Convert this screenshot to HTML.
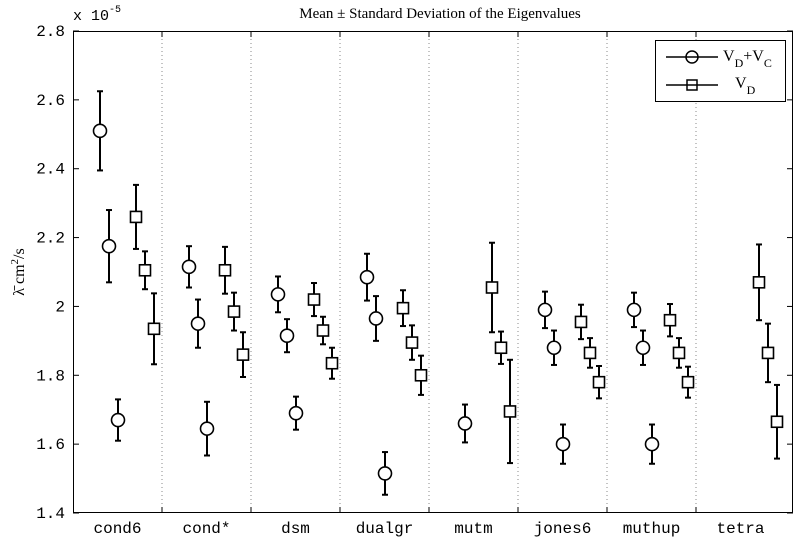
<!DOCTYPE html>
<html><head><meta charset="utf-8"><style>
html,body{margin:0;padding:0;background:#fff;}
svg{display:block;}
.mono{font-family:"Liberation Mono",monospace;}
.serif{font-family:"Liberation Serif",serif;}
</style></head><body>
<svg id="chart" width="800" height="541" viewBox="0 0 800 541">
<text x="440" y="18" text-anchor="middle" class="serif" font-size="15">Mean ± Standard Deviation of the Eigenvalues</text>
<text x="73" y="20" class="mono" font-size="15">x 10<tspan dy="-8" font-size="10">-5</tspan></text>
<text transform="translate(24,272) rotate(-90)" text-anchor="middle" class="serif" font-size="16">λ̄ cm<tspan dy="-6" font-size="11">2</tspan><tspan dy="6">/s</tspan></text>
<g id="grid"></g><g id="axes"></g><g id="marks"></g>
<g>
<rect x="655.5" y="40.5" width="130" height="61" fill="#fff" stroke="#000"/>
<g>
<line x1="666" y1="57" x2="718" y2="57" stroke="#000" stroke-width="1.5"/>
<circle cx="692" cy="57" r="6" fill="none" stroke="#000" stroke-width="1.5"/>
<text x="723" y="61" class="serif" font-size="16">V<tspan dy="6" font-size="12">D</tspan><tspan dy="-6">+V</tspan><tspan dy="6" font-size="12">C</tspan></text></g>
<g>
<line x1="666" y1="85" x2="718" y2="85" stroke="#000" stroke-width="1.5"/>
<rect x="687" y="80" width="10" height="10" fill="none" stroke="#000" stroke-width="1.5"/>
<text x="735" y="88" class="serif" font-size="16">V<tspan dy="6" font-size="12">D</tspan></text></g>
</g>
</svg>
<script>
const categories=["cond6","cond*","dsm","dualgr","mutm","jones6","muthup","tetra"];
const circMean=[[2.51,2.175,1.67],[2.115,1.95,1.645],[2.035,1.915,1.69],[2.085,1.965,1.515],[null,1.66,null],[1.99,1.88,1.60],[1.99,1.88,1.60],[null,null,null]];
const circStd=[[0.115,0.105,0.06],[0.06,0.07,0.078],[0.052,0.048,0.048],[0.068,0.065,0.062],[null,0.055,null],[0.053,0.05,0.057],[0.05,0.05,0.057],[null,null,null]];
const sqMean=[[2.26,2.105,1.935],[2.105,1.985,1.86],[2.02,1.93,1.835],[1.995,1.895,1.80],[2.055,1.88,1.695],[1.955,1.865,1.78],[1.96,1.865,1.78],[2.07,1.865,1.665]];
const sqStd=[[0.093,0.055,0.103],[0.068,0.055,0.065],[0.048,0.04,0.045],[0.052,0.05,0.057],[0.13,0.047,0.15],[0.05,0.043,0.047],[0.047,0.043,0.045],[0.11,0.085,0.107]];
const yTicks=[1.4,1.6,1.8,2,2.2,2.4,2.6,2.8];
const yTickLabels=["1.4","1.6","1.8","2","2.2","2.4","2.6","2.8"];
const L=73,R=793,T=31,B=513,ns="http://www.w3.org/2000/svg";
const catW=89;
const yS=v=>B-(v-1.4)/(2.8-1.4)*(B-T);
const xS=(c,off)=>L+c*catW+off;
function mk(t,a,p){const e=document.createElementNS(ns,t);for(const k in a)e.setAttribute(k,a[k]);p.appendChild(e);return e;}
const axes=document.getElementById('axes'),grid=document.getElementById('grid'),marks=document.getElementById('marks');
const frame=mk('rect',{x:L+.5,y:T+.5,width:R-L-1,height:B-T-1,fill:'none',stroke:'#000'},axes);


yTicks.forEach((v,i)=>{const y=yS(v);
mk('line',{x1:L,y1:y,x2:L+6,y2:y,stroke:'#000'},axes);
mk('line',{x1:R-6,y1:y,x2:R,y2:y,stroke:'#000'},axes);
const t=mk('text',{x:L-8,y:y+5,'text-anchor':'end','font-size':'16',class:'mono'},axes);
t.textContent=yTickLabels[i];

});
categories.forEach((c,i)=>{
if(i>0){const x=L+i*catW;
const g=mk('line',{x1:x,y1:T,x2:x,y2:B,stroke:'#888','stroke-dasharray':'1,3'},grid);


mk('line',{x1:x,y1:B,x2:x,y2:B-6,stroke:'#000'},axes);
mk('line',{x1:x,y1:T,x2:x,y2:T+6,stroke:'#000'},axes);}
const t=mk('text',{x:L+(i+.5)*catW,y:B+20,'text-anchor':'middle','font-size':'16',class:'mono'},axes);
t.textContent=c;

});
function err(x,m,s){const y1=yS(m+s),y2=yS(m-s);
mk('line',{x1:x,y1:y1,x2:x,y2:y2,stroke:'#000','stroke-width':2},marks);
mk('line',{x1:x-3,y1:y1,x2:x+3,y2:y1,stroke:'#000','stroke-width':2},marks);
mk('line',{x1:x-3,y1:y2,x2:x+3,y2:y2,stroke:'#000','stroke-width':2},marks);}
categories.forEach((c,i)=>{
for(let k=0;k<3;k++){
const m=circMean[i][k];if(m!=null){const x=xS(i,27+9*k);err(x,m,circStd[i][k]);
const e=mk('circle',{cx:x,cy:yS(m),r:6.5,fill:'#fff',stroke:'#000','stroke-width':1.6},marks);

}
const q=sqMean[i][k];if(q!=null){const x=xS(i,63+9*k);err(x,q,sqStd[i][k]);
const e=mk('rect',{x:x-5.5,y:yS(q)-5.5,width:11,height:11,fill:'#fff',stroke:'#000','stroke-width':1.6},marks);

}
}});
</script>
</body></html>
